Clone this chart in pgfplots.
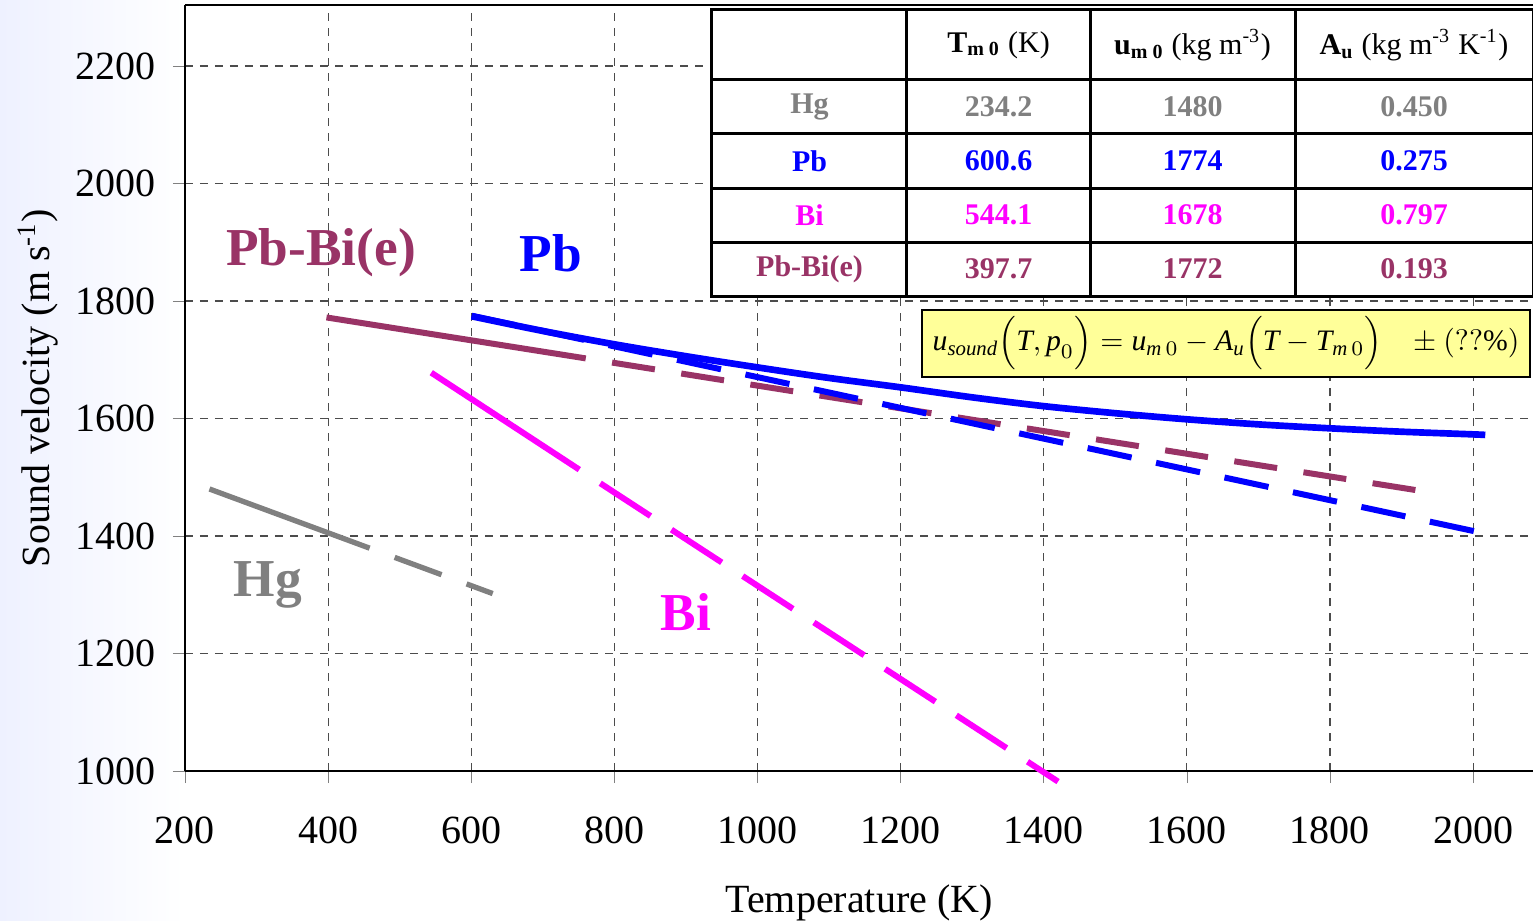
\documentclass[border=0pt]{standalone}
\usepackage{fontspec}
\setmainfont{Liberation Serif}
\usepackage{amsmath}
\usepackage{graphicx}
\usepackage{pgfplots}
\pgfplotsset{compat=1.18}
\usetikzlibrary{backgrounds}
\definecolor{hgc}{RGB}{128,128,128}
\definecolor{pbc}{RGB}{0,0,255}
\definecolor{bic}{RGB}{255,0,255}
\definecolor{pbbic}{RGB}{153,51,102}
\definecolor{boxyel}{RGB}{255,255,153}
\definecolor{bgblue}{RGB}{238,241,255}
\newcommand{\tabfont}{\fontsize{9}{10}\selectfont}
\newcommand{\bigfont}{\fontsize{16}{18}\selectfont\bfseries}

\begin{document}
\begin{tikzpicture}
\begin{axis}[
  scale only axis, width=404.4pt, height=229.8pt,
  xmin=200, xmax=2083.7, ymin=1000, ymax=2303.8,
  xtick={200,400,...,2000}, ytick={1000,1200,...,2200},
  axis x line*=box, axis y line*=left,
  axis line style={-, line width=0.6pt},
  xtick pos=bottom, ytick pos=left,
  tick align=outside, major tick length=3.6pt,
  grid=major, grid style={dash pattern=on 2.5pt off 2pt, black!70, line width=0.35pt},
  tick label style={font=\fontsize{12}{14}\selectfont},
  /pgf/number format/assume math mode=true,
  /pgf/number format/1000 sep={},
  xticklabel style={yshift=-6.6pt},
  yticklabel style={xshift=-1.6pt},
  xlabel={Temperature (K)},
  ylabel={Sound velocity (m s\textsuperscript{-1})},
  label style={font=\fontsize{12}{14}\selectfont},
  xlabel style={at={(axis description cs:0.5,-0.172)}, anchor=center},
  ylabel style={at={(axis description cs:-0.109,0.5)}, anchor=center},
  clip=false,
]
% Hg
\addplot[hgc, line width=1.6pt] coordinates {(234.2,1480) (458,1379.3)};
\addplot[hgc, line width=1.6pt, dash pattern=on 15pt off 8pt, dash phase=15pt] coordinates {(458,1379.3) (630,1302)};
% Bi
\addplot[bic, line width=1.8pt] coordinates {(544.1,1678) (751,1513)};
\addplot[bic, line width=1.8pt, dash pattern=on 18pt off 7.5pt, dash phase=18pt] coordinates {(751,1513) (1420,982)};
% Pb-Bi(e)
\addplot[pbbic, line width=1.8pt] coordinates {(397.7,1772) (760,1702.3)};
\addplot[pbbic, line width=1.8pt, dash pattern=on 13pt off 8pt, dash phase=13pt] coordinates {(760,1702.3) (1943,1473.7)};
% Pb
\addplot[pbc, line width=1.8pt, dash pattern=on 13.5pt off 7.5pt] coordinates {(600.6,1775) (2029,1401)};
\addplot[pbc, line width=2pt, smooth] coordinates {(600.6,1774) (700,1749) (800,1726.3) (900,1706) (1000,1687) (1100,1669) (1200,1653) (1300,1636) (1400,1621) (1500,1609) (1600,1598.6) (1700,1590) (1800,1583.3) (1900,1577.5) (2000,1573) (2017,1572)};

% series names
\node[font=\bigfont, text=pbbic] at (axis cs:390,1882) {Pb-Bi(e)};
\node[font=\bigfont, text=pbc] at (axis cs:711.5,1882) {Pb};
\node[font=\bigfont, text=hgc] at (axis cs:316,1316.6) {Hg};
\node[font=\bigfont, text=bic] at (axis cs:900,1270.6) {Bi};

% parameter table
\fill[white] (axis cs:936.4,1806.8) rectangle (axis cs:2083.7,2295.3);
\draw[line width=0.9pt] (axis cs:936.4,1806.8) rectangle (axis cs:2083.7,2295.3);
\draw[line width=0.9pt] (axis cs:936.4,2176.2) -- (axis cs:2083.7,2176.2);
\draw[line width=0.9pt] (axis cs:936.4,2084.3) -- (axis cs:2083.7,2084.3);
\draw[line width=0.9pt] (axis cs:936.4,1992.3) -- (axis cs:2083.7,1992.3);
\draw[line width=0.9pt] (axis cs:936.4,1900.4) -- (axis cs:2083.7,1900.4);
\draw[line width=0.9pt] (axis cs:1208.9,1806.8) -- (axis cs:1208.9,2295.3);
\draw[line width=0.9pt] (axis cs:1464.7,1806.8) -- (axis cs:1464.7,2295.3);
\draw[line width=0.9pt] (axis cs:1751.1,1806.8) -- (axis cs:1751.1,2295.3);
\node[font=\tabfont] at (axis cs:1336.8,2235.7) {\textbf{T\textsubscript{m 0}} (K)};
\node[font=\tabfont] at (axis cs:1607.9,2235.7) {\textbf{u\textsubscript{m 0}} (kg m\textsuperscript{-3})};
\node[font=\tabfont] at (axis cs:1917.4,2235.7) {\textbf{A\textsubscript{u}} (kg m\textsuperscript{-3} K\textsuperscript{-1})};
\node[font=\tabfont\bfseries, text=hgc] at (axis cs:1072.7,2130.2) {Hg};
\node[font=\tabfont\bfseries, text=hgc] at (axis cs:1336.8,2130.2) {234.2};
\node[font=\tabfont\bfseries, text=hgc] at (axis cs:1607.9,2130.2) {1480};
\node[font=\tabfont\bfseries, text=hgc] at (axis cs:1917.4,2130.2) {0.450};
\node[font=\tabfont\bfseries, text=pbc] at (axis cs:1072.7,2038.3) {Pb};
\node[font=\tabfont\bfseries, text=pbc] at (axis cs:1336.8,2038.3) {600.6};
\node[font=\tabfont\bfseries, text=pbc] at (axis cs:1607.9,2038.3) {1774};
\node[font=\tabfont\bfseries, text=pbc] at (axis cs:1917.4,2038.3) {0.275};
\node[font=\tabfont\bfseries, text=bic] at (axis cs:1072.7,1946.4) {Bi};
\node[font=\tabfont\bfseries, text=bic] at (axis cs:1336.8,1946.4) {544.1};
\node[font=\tabfont\bfseries, text=bic] at (axis cs:1607.9,1946.4) {1678};
\node[font=\tabfont\bfseries, text=bic] at (axis cs:1917.4,1946.4) {0.797};
\node[font=\tabfont\bfseries, text=pbbic] at (axis cs:1072.7,1854.5) {Pb-Bi(e)};
\node[font=\tabfont\bfseries, text=pbbic] at (axis cs:1336.8,1854.5) {397.7};
\node[font=\tabfont\bfseries, text=pbbic] at (axis cs:1607.9,1854.5) {1772};
\node[font=\tabfont\bfseries, text=pbbic] at (axis cs:1917.4,1854.5) {0.193};

% formula box
\filldraw[fill=boxyel, draw=black, line width=0.6pt] (axis cs:1229.9,1670.6) rectangle (axis cs:2079.5,1784.7);
\node[inner sep=0pt] at (axis cs:1654.7,1727.6)
  {\resizebox{176pt}{!}{$\textit{u}_{\textit{sound}}\Bigl(\textit{T}, \textit{p}_{0}\Bigr) = \textit{u}_{\textit{m}\,0} - \textit{A}_{\textit{u}}\Bigl(\textit{T} - \textit{T}_{\textit{m}\,0}\Bigr)\;\;\;\pm(??\%)$}};
\end{axis}
\begin{pgfonlayer}{background}
\shade[left color=bgblue, right color=white] ([xshift=-55.5pt,yshift=-44.7pt]current axis.south west) rectangle ([yshift=1.5pt]current axis.north west);
\end{pgfonlayer}
\pgfresetboundingbox
\path[use as bounding box] ([xshift=-55.5pt,yshift=-44.7pt]current axis.south west) rectangle ([yshift=1.5pt]current axis.north east);
\end{tikzpicture}
\end{document}
